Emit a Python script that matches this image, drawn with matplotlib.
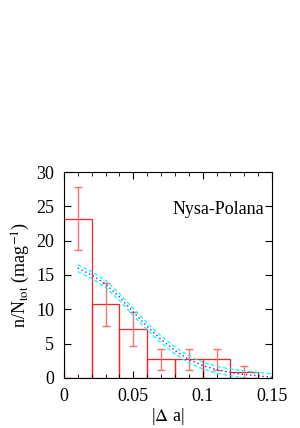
import numpy as np
import matplotlib.pyplot as plt

plt.rcParams['font.family'] = ['Liberation Serif', 'DejaVu Serif']
plt.rcParams['mathtext.fontset'] = 'stix'

# histogram data (bin edges, heights, error limits)
edges = [0.0, 0.02, 0.04, 0.06, 0.08, 0.10, 0.12, 0.14]
heights = [23.2, 10.7, 7.1, 2.7, 2.7, 2.7, 0.9]
err_lo = [18.6, 7.6, 4.6, 1.1, 1.1, 1.1, 0.0]
err_hi = [27.8, 13.8, 9.6, 4.2, 4.2, 4.2, 1.8]

# model curve
curve_x = [0.01, 0.02, 0.03, 0.04, 0.05, 0.06, 0.07, 0.08, 0.09, 0.10,
           0.11, 0.12, 0.13, 0.14, 0.15]
curve_y = [16.0, 15.0, 13.7, 11.8, 9.6, 7.5, 5.6, 4.0, 2.7, 1.8,
           1.2, 0.8, 0.5, 0.3, 0.1]
band = 0.5

fig = plt.figure(figsize=(3.0, 4.28), dpi=100)
ax = fig.add_axes([0.213, 0.117, 0.694, 0.481])

red = '#ff2020'
centers = [(edges[i] + edges[i + 1]) / 2 for i in range(len(heights))]
ax.bar(edges[:-1], heights, width=0.02, align='edge', fill=False,
       edgecolor=red, linewidth=0.9)
yerr = [np.array(heights) - np.array(err_lo), np.array(err_hi) - np.array(heights)]
ax.errorbar(centers, heights, yerr=yerr, fmt='none', ecolor='#ff7070',
            elinewidth=1.0, capsize=3, capthick=1.0)

cy = np.array(curve_y)
ax.plot(curve_x, cy + band, color='cyan', linestyle=(0, (3, 2)), linewidth=0.9)
ax.plot(curve_x, cy - band, color='cyan', linestyle=(0, (3, 2)), linewidth=0.9)
ax.plot(curve_x, cy, color='#3030ff', linestyle=(0, (1, 2)), linewidth=1.0)

ax.set_xlim(0, 0.15)
ax.set_ylim(0, 30)
ax.set_xticks([0, 0.05, 0.1, 0.15])
ax.set_xticklabels(['0', '0.05', '0.1', '0.15'])
ax.set_xticks(np.arange(0, 0.151, 0.01), minor=True)
ax.set_yticks([0, 5, 10, 15, 20, 25, 30])
ax.tick_params(direction='in', top=True, right=True, labelsize=13, length=5, pad=7)
ax.tick_params(which='minor', direction='in', top=True, length=3)

ax.set_xlabel(r'|$\Delta$ a|', fontsize=13, labelpad=1)
ax.set_ylabel(r'n/N$_{\rm tot}$ (mag$^{-1}$)', fontsize=13, labelpad=3)
ax.text(0.96, 0.82, 'Nysa-Polana', transform=ax.transAxes, ha='right',
        va='center', fontsize=13)

fig.savefig('out.png', dpi=100)
